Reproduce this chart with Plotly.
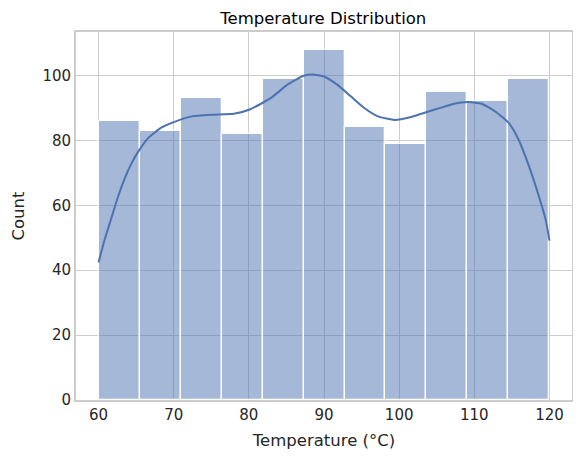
import numpy as np
import plotly.graph_objects as go

# histogram counts (11 bins from 60 to 120)
counts = [86, 83, 93, 82, 99, 108, 84, 79, 95, 92, 99]
bin_start = 60
bin_end = 120

# KDE curve (scaled to counts)
kde_x = [60, 60.8, 61.7, 62.6, 63.5, 64.4, 65.3, 66.6, 68.4, 70.2, 72.4, 75.1,
         78, 80.2, 82.9, 85.1, 87.3, 88.5, 90.0, 91.8, 93.6, 95.4, 97.2, 99.4,
         101.6, 103.9, 105.6, 107.2, 109.2, 111.0, 112.8, 114.6, 115.9, 117.3,
         118.6, 119.5, 120]
kde_y = [42.4, 49.3, 56.0, 62.7, 68.4, 73.0, 76.6, 80.7, 84.0, 85.8, 87.4, 87.9,
         88.2, 89.6, 93.0, 97.1, 99.9, 100.3, 99.7, 97.1, 93.5, 89.9, 87.4, 86.3,
         87.2, 88.9, 90.1, 91.2, 91.8, 91.3, 88.9, 85.3, 80.2, 71.9,
         62.7, 55.5, 49.1]

edges = np.linspace(bin_start, bin_end, len(counts) + 1)
centers = (edges[:-1] + edges[1:]) / 2
width = edges[1] - edges[0]

blue = "#4c72b0"
grid = "#cccccc"
txt = "#262626"

fig = go.Figure()
fig.add_trace(go.Bar(
    x=centers, y=counts, width=width,
    marker=dict(color="rgba(76,114,176,0.5)", line=dict(color="white", width=1.3)),
    showlegend=False, hoverinfo="x+y",
))
fig.add_trace(go.Scatter(
    x=kde_x, y=kde_y, mode="lines",
    line=dict(color=blue, width=2, shape="spline", smoothing=0.5),
    showlegend=False,
))

# page body has an 8px margin, so the figure is a bit smaller than the window
fig.update_layout(
    width=565, height=447,
    margin=dict(l=68, r=1, t=24, b=55),
    paper_bgcolor="white", plot_bgcolor="white",
    font=dict(family="DejaVu Sans", color=txt, size=15),
    title=dict(text="Temperature Distribution", x=0.558, xanchor="center",
               y=0.978, yanchor="middle", font=dict(size=16.5, color="black")),
    bargap=0,
)
fig.update_xaxes(
    range=[57, 123], tickvals=[60, 70, 80, 90, 100, 110, 120],
    showgrid=True, gridcolor=grid, gridwidth=1.4,
    showline=True, mirror=True, linecolor=grid, linewidth=1.7,
    ticks="", zeroline=False, automargin=False,
    title=dict(text="Temperature (°C)", font=dict(size=16.5), standoff=12),
    tickfont=dict(size=15),
)
fig.update_yaxes(
    range=[0, 113.4], tickvals=[0, 20, 40, 60, 80, 100],
    showgrid=True, gridcolor=grid, gridwidth=1.4,
    showline=True, mirror=True, linecolor=grid, linewidth=1.7,
    ticks="", zeroline=False, automargin=False,
    title=dict(text="Count", font=dict(size=16.5), standoff=14),
    tickfont=dict(size=15),
)

fig.write_html("out.html")
